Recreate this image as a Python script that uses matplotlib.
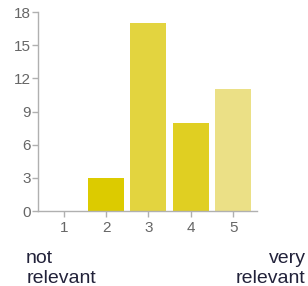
import matplotlib.pyplot as plt

plt.rcParams['font.family'] = ['Liberation Sans', 'DejaVu Sans']

ratings = [1, 2, 3, 4, 5]
counts = [0, 3, 17, 8, 11]
bar_colors = ['#d9c600', '#dccb00', '#e3d43f', '#e0cf22', '#ebe086']
y_ticks = [0, 3, 6, 9, 12, 15, 18]

fig = plt.figure(figsize=(3.08, 2.86), dpi=100)
ax = fig.add_axes([0.123, 0.262, 0.711, 0.696])

ax.bar(ratings, counts, width=0.85, color=bar_colors)

ax.set_xlim(0.39, 5.56)
ax.set_ylim(0, 18)
ax.set_yticks(y_ticks)
ax.set_xticks(ratings)

for side in ['top', 'right']:
    ax.spines[side].set_visible(False)
for side in ['left', 'bottom']:
    ax.spines[side].set_color('#b0b0b0')
    ax.spines[side].set_linewidth(1)

ax.tick_params(axis='both', colors='#b0b0b0', labelcolor='#666666',
               labelsize=11, length=4, width=1)
ax.tick_params(axis='y', pad=1)
ax.tick_params(axis='x', pad=3)

fig.text(0.085, 0.012, 'not\nrelevant', ha='left', va='baseline',
         fontsize=14, color='#22223a', linespacing=1.2)
fig.text(0.992, 0.012, 'very\nrelevant', ha='right', va='baseline',
         fontsize=14, color='#22223a', linespacing=1.2, multialignment='right')

fig.savefig('out.png', dpi=100)
